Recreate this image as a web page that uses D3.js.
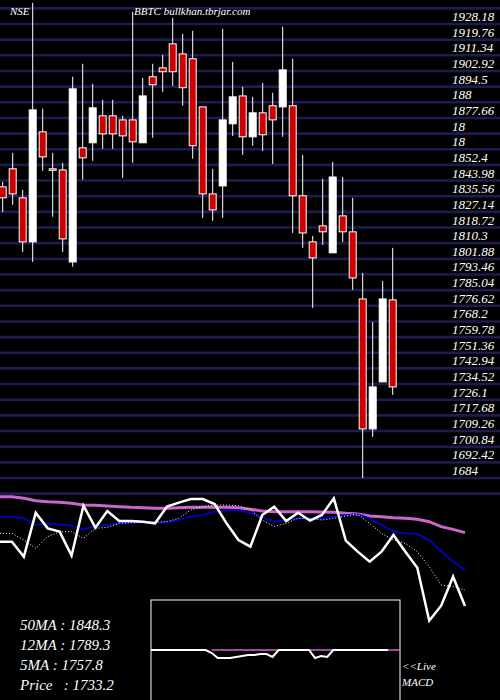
<!DOCTYPE html>
<html>
  <head>
    <meta charset="utf-8">
    <title>BBTC chart</title>
    <script src="https://d3js.org/d3.v7.min.js"></script>
    <style>
      body { margin:0; background:#000; }
      text { font-family:"Liberation Serif","DejaVu Serif",serif; font-style:italic; fill:#fff; }
    </style>
  </head>
  <body>
  <script type="text/javascript">
    // candles: open, high, low, close
    var opens  = [1840.6,1850.3,1834.7,1811.0,1870.2,1850.3,1849.7,1800.2,1861.6,1864.3,1878.8,1878.8,1876.6,1876.6,1864.3,1899.8,1904.6,1917.5,1912.1,1909.5,1883.6,1836.8,1841.1,1874.5,1889.5,1867.5,1880.4,1884.2,1883.6,1884.2,1835.8,1811.0,1819.6,1805.1,1825.0,1816.4,1780.3,1710.4,1735.7,1779.8];
    var highs  = [1843.3,1858.9,1839.0,1939.6,1882.6,1858.9,1853.5,1899.8,1906.8,1896.0,1887.4,1887.4,1878.8,1934.7,1899.2,1906.8,1911.6,1931.5,1922.9,1924.5,1883.6,1850.3,1925.6,1907.8,1894.4,1889.0,1896.5,1891.2,1926.7,1909.5,1857.8,1814.2,1844.9,1854.0,1845.9,1834.7,1794.3,1767.9,1790.0,1807.8];
    var lows   = [1827.1,1830.9,1805.6,1800.2,1849.2,1824.5,1805.6,1797.6,1844.4,1854.6,1861.0,1861.0,1845.4,1853.5,1864.3,1867.0,1891.7,1894.9,1884.2,1855.7,1823.9,1822.3,1823.9,1868.0,1857.8,1862.7,1859.9,1852.9,1867.5,1815.8,1807.8,1775.5,1809.4,1805.1,1811.0,1785.2,1684.0,1706.1,1735.7,1728.7];
    var closes = [1834.7,1836.8,1811.0,1882.0,1856.7,1849.7,1812.6,1893.3,1856.2,1883.1,1869.1,1869.1,1868.0,1864.8,1889.5,1895.5,1902.5,1902.5,1893.9,1862.7,1836.8,1828.2,1876.6,1889.0,1867.5,1880.4,1868.6,1876.6,1903.5,1835.8,1815.8,1802.4,1816.4,1845.9,1816.4,1791.6,1710.4,1733.0,1780.3,1733.0];

    var tickLabels = ['1928.18','1919.76','1911.34','1902.92','1894.5','188','1877.66','18','18','1852.4','1843.98','1835.56','1827.14','1818.72','1810.3','1801.88','1793.46','1785.04','1776.62','1768.2','1759.78','1751.36','1742.94','1734.52','1726.1','1717.68','1709.26','1700.84','1692.42','1684'];

    // lower panel (relative level, 0..130)
    var priceLine = [155,155,200,68,115,125,197,47,113,63,93,93,95,100,50,38,27,27,42,100,150,170,75,50,93,68,92,75,25,152,185,215,185,135,185,233,392,347,260,348];
    var ma5  = [130,130,150,175,140,125,125,145,115,112,100,98,97,97,95,85,60,50,45,45,47,60,90,110,100,85,85,90,85,78,72,100,130,150,160,185,230,285,290,300];
    var ma12 = [80,80,85,105,100,103,107,118,108,105,100,98,97,97,97,90,80,75,65,62,60,70,80,95,90,85,85,85,80,75,72,85,105,125,130,132,150,185,215,240];
    var ma50 = [20,20,25,32,35,37,40,45,46,48,50,52,53,55,55,53,52,52,52,52,53,58,63,65,65,65,65,66,67,70,72,78,80,83,85,88,95,110,118,128];
    var macd = [0,0,0,0,0,0,0,0,0,0,-3,-8,-8,-8,-7,-6,-5,-5,-4,-4,-7,0,0,0,0,0,0,-8,-6,-7,0,0,0,0,0,0,0,0,0,0];

    var svg = d3.select('body').append('svg')
                .attr('width',500).attr('height',700)
                .style('background','#000').style('display','block');

    var y = d3.scaleLinear().domain([1684,1928.18]).range([478,24]);
    var x = d3.scaleLinear().domain([0,39]).range([2.7,392.7]);

    // grid
    var gridVals = d3.range(-1,32).map(function(k){ return 1684 + k*8.42; });
    svg.selectAll('line.grid').data(gridVals).enter().append('line')
       .attr('x1',0).attr('x2',500)
       .attr('y1',function(d){return y(d)}).attr('y2',function(d){return y(d)})
       .attr('stroke','#1c1c50').attr('stroke-width',2.6);

    svg.selectAll('text.tick').data(tickLabels).enter().append('text')
       .attr('x',452).attr('y',function(d,i){ return y(1928.18 - i*8.42) - 3; })
       .attr('font-size',13).text(function(d){return d});

    svg.append('text').attr('x',10).attr('y',15).attr('font-size',11).text('NSE');
    svg.append('text').attr('x',134).attr('y',15).attr('font-size',11).text('BBTC bullkhan.tbrjar.com');

    var c = svg.selectAll('g.c').data(closes).enter().append('g');
    c.append('line')
     .attr('x1',function(d,i){return x(i)}).attr('x2',function(d,i){return x(i)})
     .attr('y1',function(d,i){return y(highs[i])}).attr('y2',function(d,i){return y(lows[i])})
     .attr('stroke','#fff').attr('stroke-width',1);
    c.append('rect')
     .attr('x',function(d,i){return x(i)-3.5}).attr('width',7)
     .attr('y',function(d,i){return y(Math.max(opens[i],d))})
     .attr('height',function(d,i){return Math.max(1.5,Math.abs(y(opens[i])-y(d)))})
     .attr('fill',function(d,i){return d>=opens[i] ? '#fff' : '#cc0000'})
     .attr('stroke','#fff').attr('stroke-width',1);

    // MA panel
    var mx = d3.scaleLinear().domain([0,39]).range([0,465]);
    var my = d3.scaleLinear().domain([0,390]).range([490,620]);
    function mline(arr){ return d3.line().x(function(d,i){return mx(i)}).y(function(d){return my(d)})(arr); }
    svg.append('path').attr('d',mline(ma50)).attr('fill','none').attr('stroke','#cc66cc').attr('stroke-width',3);
    svg.append('path').attr('d',mline(ma12)).attr('fill','none').attr('stroke','#0000dd').attr('stroke-width',1.6);
    svg.append('path').attr('d',mline(ma5)).attr('fill','none').attr('stroke','#fff').attr('stroke-width',1).attr('stroke-dasharray','1,2');
    svg.append('path').attr('d',mline(priceLine)).attr('fill','none').attr('stroke','#fff').attr('stroke-width',2.5);

    // MACD box
    svg.append('rect').attr('x',151).attr('y',600).attr('width',249).attr('height',110)
       .attr('fill','none').attr('stroke','#fff').attr('stroke-width',1);
    var cx = d3.scaleLinear().domain([0,39]).range([151,388]);
    svg.append('line').attr('x1',cx(10)).attr('x2',400).attr('y1',650).attr('y2',650)
       .attr('stroke','#cc66cc').attr('stroke-width',1.5);
    svg.append('path')
       .attr('d',d3.line().x(function(d,i){return cx(i)}).y(function(d){return 650 - d})(macd))
       .attr('fill','none').attr('stroke','#fff').attr('stroke-width',2);

    var info = ['50MA : 1848.3','12MA : 1789.3','5MA : 1757.8','Price   : 1733.2'];
    svg.selectAll('text.info').data(info).enter().append('text')
       .attr('x',20).attr('y',function(d,i){return 630 + i*20})
       .attr('font-size',15).attr('xml:space','preserve').style('white-space','pre')
       .text(function(d){return d});
    svg.append('text').attr('x',402).attr('y',670).attr('font-size',11).text('<<Live');
    svg.append('text').attr('x',402).attr('y',686).attr('font-size',11).text('MACD');
  </script>
  </body>
</html>
